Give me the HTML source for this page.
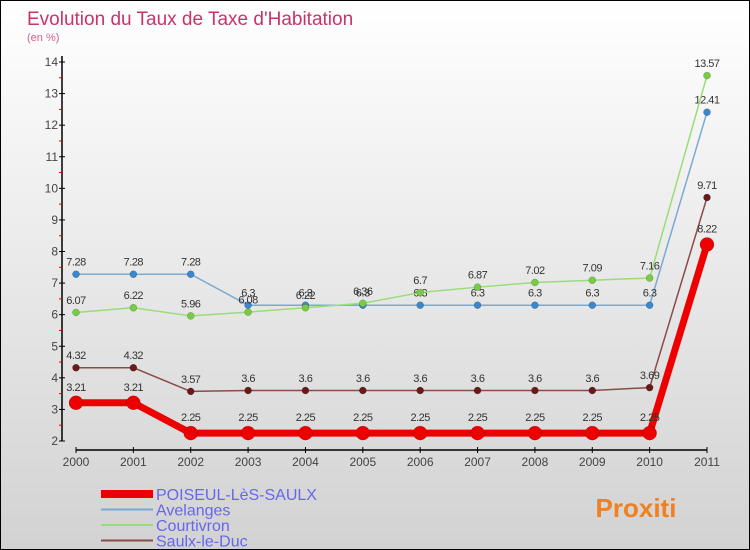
<!DOCTYPE html>
<html><head><meta charset="utf-8"><style>
body{margin:0}
#c{position:relative;width:750px;height:550px;box-sizing:border-box;border:1px solid #000;background:linear-gradient(#fff,#d2d2d2);font-family:"Liberation Sans",sans-serif;overflow:hidden}
svg text{font-family:"Liberation Sans",sans-serif}
</style></head><body>
<div id="c">
<svg id="s" width="750" height="550">
<text x="26" y="24" font-size="19" fill="#c8336a">Evolution du Taux de Taxe d'Habitation</text>
<text x="26" y="40" font-size="11" fill="#d06090">(en %)</text>
</svg>
</div>
<script>
const years=["2000","2001","2002","2003","2004","2005","2006","2007","2008","2009","2010","2011"];
const yTicks=[2,3,4,5,6,7,8,9,10,11,12,13,14];
const poiseul=[3.21,3.21,2.25,2.25,2.25,2.25,2.25,2.25,2.25,2.25,2.25,8.22];
const avelanges=[7.28,7.28,7.28,6.3,6.3,6.3,6.3,6.3,6.3,6.3,6.3,12.41];
const courtivron=[6.07,6.22,5.96,6.08,6.22,6.36,6.7,6.87,7.02,7.09,7.16,13.57];
const saulx=[4.32,4.32,3.57,3.6,3.6,3.6,3.6,3.6,3.6,3.6,3.69,9.71];
const seriesNames=["POISEUL-LèS-SAULX","Avelanges","Courtivron","Saulx-le-Duc"];
const svg=document.getElementById('s');const NS="http://www.w3.org/2000/svg";
function X(i){return 75+i*(706-75)/11}
function Y(v){return 440-(v-2)*(440-61)/12}
function mk(t,a,p){const e=document.createElementNS(NS,t);for(const k in a)e.setAttribute(k,a[k]);(p||svg).appendChild(e);return e}
function txt(x,y,s,a,col,anchor){const e=mk('text',{x:x,y:y,'font-size':s,fill:col||'#333','text-anchor':anchor||'middle'});e.textContent=a;return e}
// axes
let ax=mk('line',{x1:61,y1:55,x2:61,y2:440,stroke:'#000','stroke-width':1.5});


let bx=mk('line',{x1:75,y1:449,x2:706,y2:449,stroke:'#000','stroke-width':1.5});


yTicks.forEach((v,i)=>{
 mk('line',{x1:58,y1:Y(v),x2:64,y2:Y(v),stroke:'#000'});
 if(i<yTicks.length-1)mk('line',{x1:58,y1:Y(v+0.5),x2:61,y2:Y(v+0.5),stroke:'#e00'});
 const t=txt(57,Y(v)+4,12,String(v),'#444','end');
 
 
});
years.forEach((y,i)=>{
 mk('line',{x1:X(i),y1:446,x2:X(i),y2:452,stroke:'#000'});
 const t=txt(X(i),465,12,y,'#444');
 
 
});
function series(data,col,w,r,dot,name){
 const g=mk('g',{});
 
 
 mk('polyline',{points:data.map((v,i)=>X(i)+','+Y(v)).join(' '),fill:'none',stroke:col,'stroke-width':w,'stroke-linejoin':'round'},g);
 data.forEach((v,i)=>{
  const c=mk('circle',{cx:X(i),cy:Y(v),r:r,fill:dot,stroke:'rgba(0,0,0,0.3)','stroke-width':0.5},g);
  
  
  txt(X(i),Y(v)-r-5,11,String(v).replace(/^(\d+)$/,'$1'),'#333').setAttribute('letter-spacing','-0.5');
 });
}
series(avelanges,'#7aaad4',1.5,3.5,'#3a88cc','series-avelanges');
series(courtivron,'#99dd77',1.5,3.5,'#77cc44','series-courtivron');
series(saulx,'#8b4a4a',1.5,3.5,'#6b1a1a','series-saulx-le-duc');
series(poiseul,'#ee0000',7,7,'#ee0000','series-poiseul');
// legend
const lg=[['#ee0000',8],['#7aaad4',2],['#99dd77',2],['#8b4a4a',2]];
lg.forEach((l,i)=>{
 const y=493+i*15.5;
 const g=mk('g',{});
 
 
 mk('line',{x1:100,y1:y,x2:152,y2:y,stroke:l[0],'stroke-width':l[1]},g);
 const t=txt(155,y+6,16,seriesNames[i],'#6666ee','start');g.appendChild(t);
});
// logo
const lt=txt(635,516,26,'Proxiti','#f08020');
lt.setAttribute('font-weight','bold');


</script>
</body></html>
